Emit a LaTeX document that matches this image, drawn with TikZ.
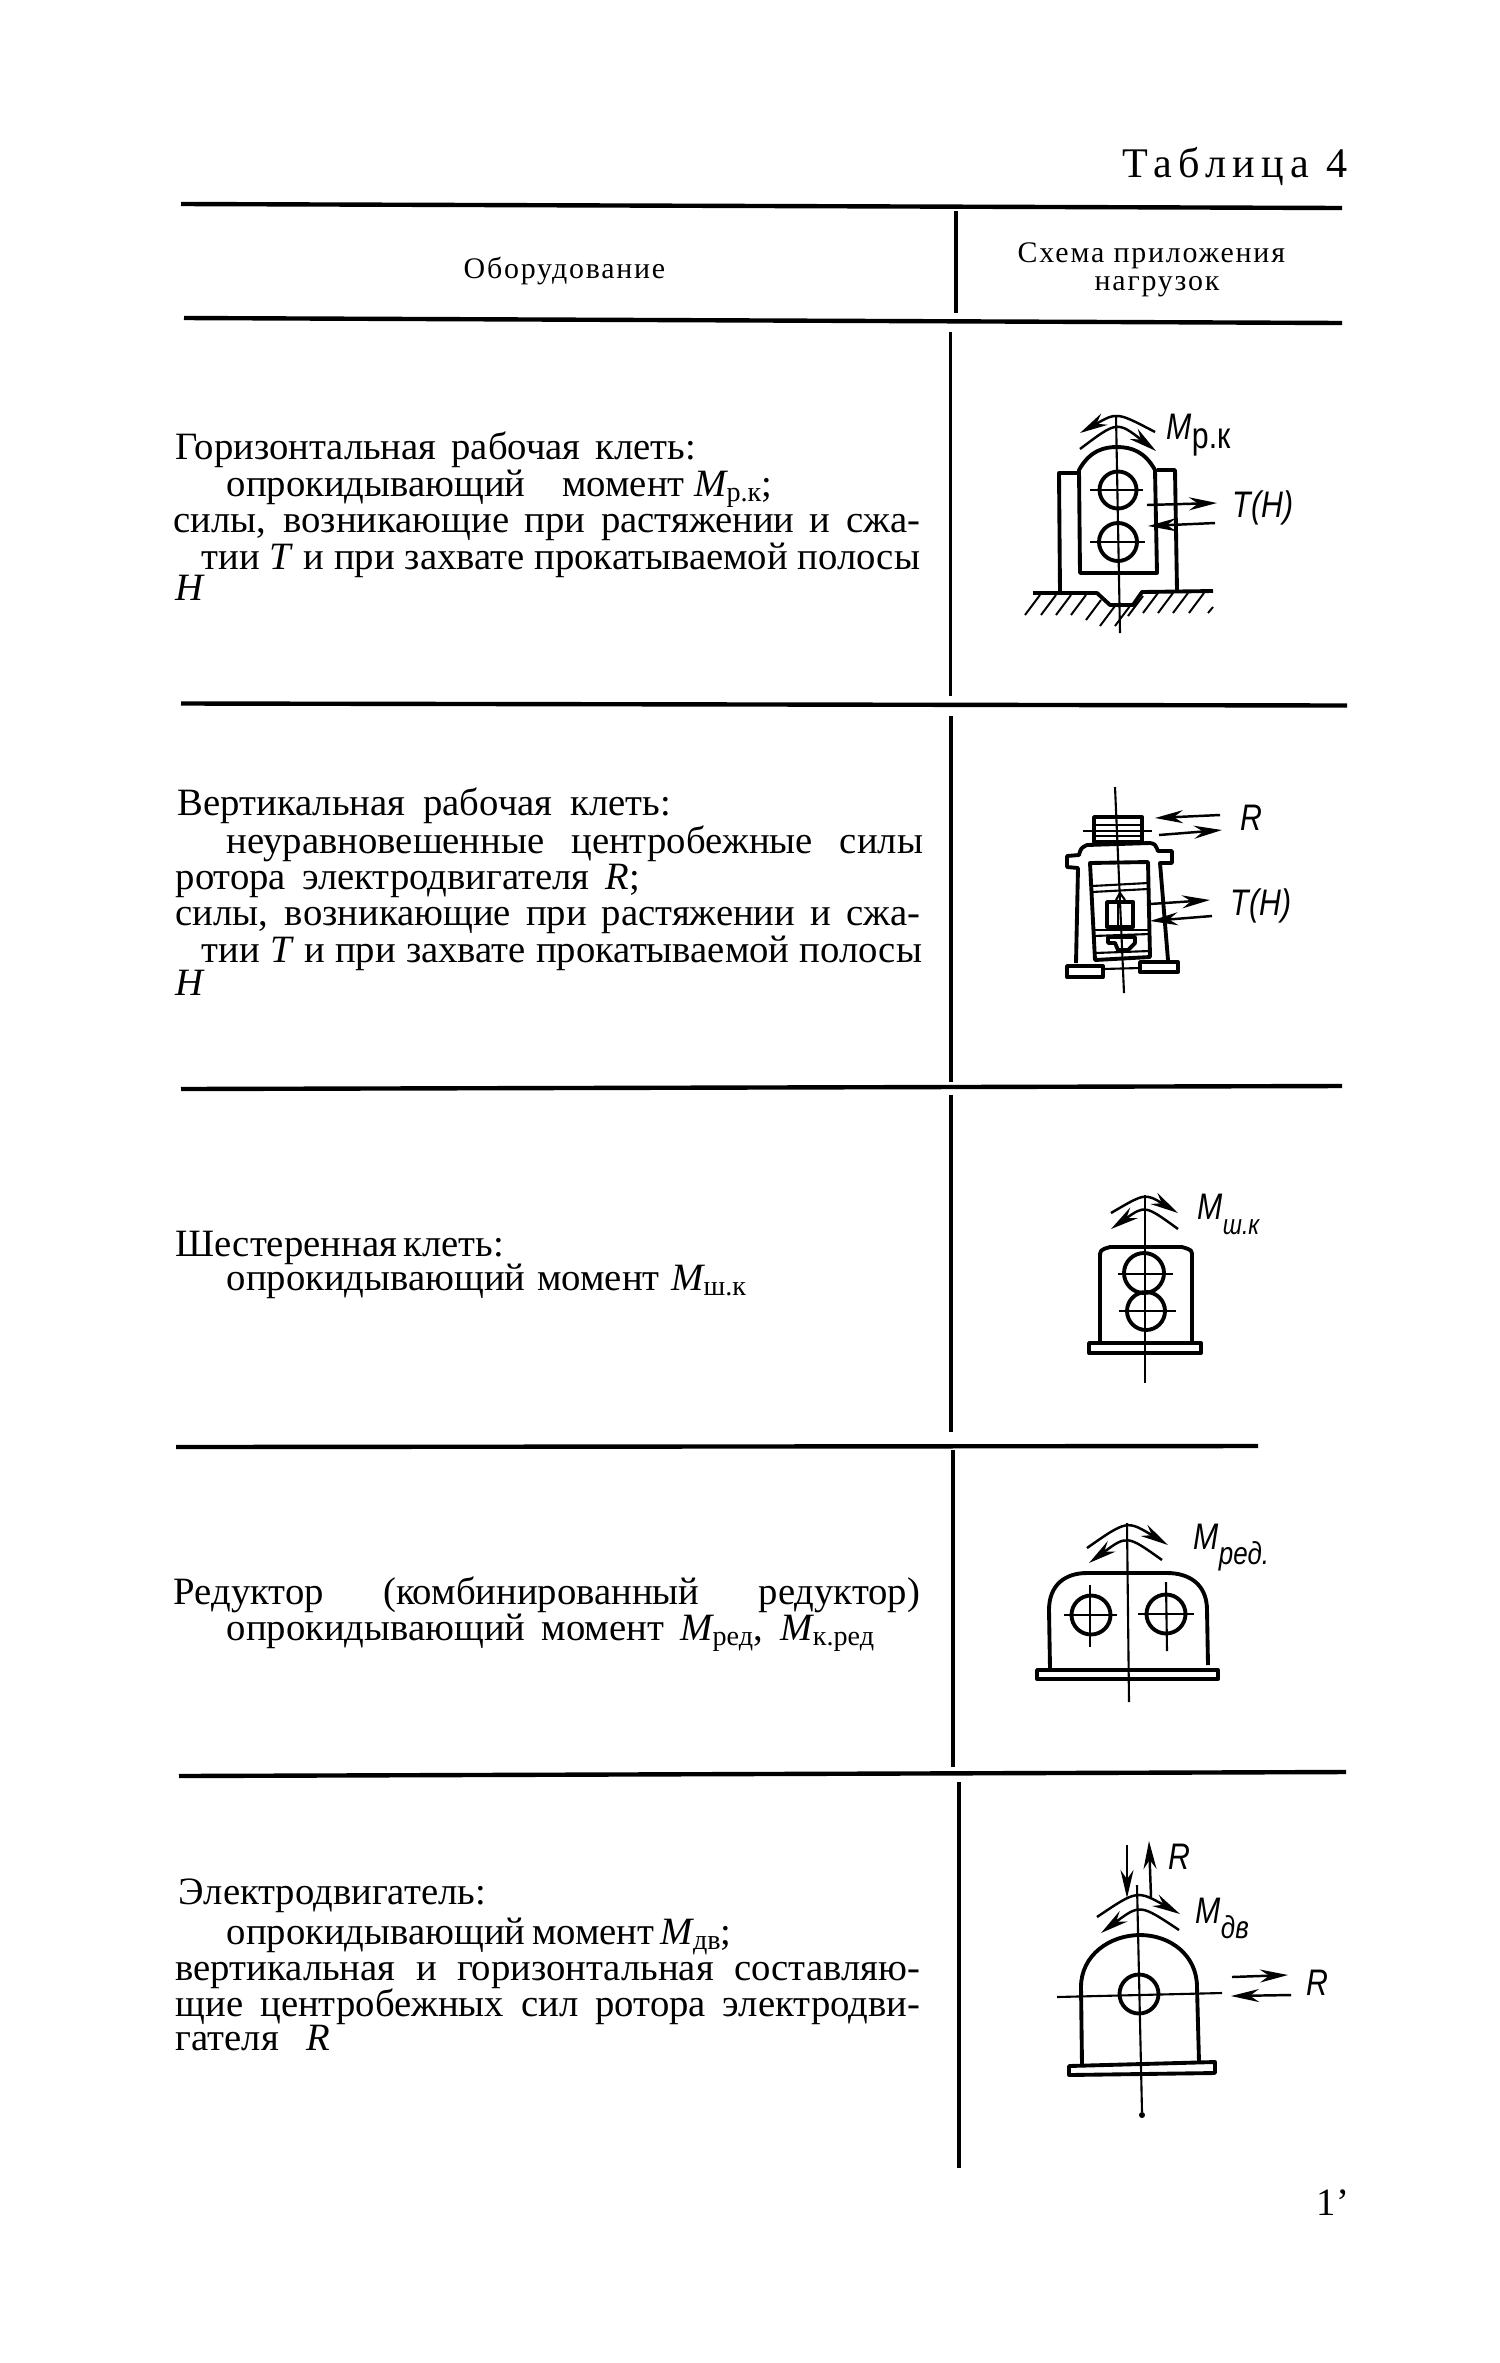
\documentclass[tikz,border=0pt]{standalone}
\usepackage{fontspec}
\usepackage{graphicx}
\setmainfont{Liberation Serif}
\newfontfamily\handfont{Liberation Sans}
\usetikzlibrary{arrows.meta}
\newcommand{\jline}[2]{\hbox to #1{#2}}
\newcommand{\mload}[1]{\textit{M}\kern-.5pt\lower.3ex\hbox{\footnotesize #1}}
\newcommand{\hnarrow}[1]{\scalebox{.82}[1]{#1}}
\tikzset{
  txt/.style={anchor=base west, inner sep=0pt, font=\fontsize{11}{12}\selectfont},
  headtxt/.style={txt, font=\fontsize{8.5}{9}\selectfont\addfontfeature{LetterSpace=6}},
  hand/.style={anchor=base west, inner sep=0pt, font=\handfont\fontsize{10.5}{12}\selectfont\itshape},
  rule/.style={line width=1.25pt},
  vrule/.style={line width=1.05pt},
  body/.style={line width=1.1pt, line join=round},
  thin/.style={line width=.6pt},
  hatch/.style={line width=.55pt},
  force/.style={line width=.7pt, -{Stealth[length=2.8mm, width=1.3mm]}}
}
\begin{document}
\begin{tikzpicture}[x=.01cm, y=-.01cm]
  \useasboundingbox (0,0) rectangle (1500,2363);
  % heading
  \node[txt, font=\fontsize{12}{12}\selectfont\addfontfeature{LetterSpace=15}] (title) at (1122,177) {Таблица 4};
  \node[headtxt] (headA) at (463,278) {Оборудование};
  \node[headtxt] (headB) at (1017,262) {Схема приложения};
  \node[headtxt] (headC) at (1094,290) {нагрузок};
  % table lines
  \draw[rule] (181,204) -- (1342,208);
  \draw[rule] (184,318) -- (1342,323);
  \draw[rule] (181,703.5) -- (1347,705.5);
  \draw[rule] (181,1089) -- (1342,1086);
  \draw[rule] (176,1447) -- (1258,1446);
  \draw[rule] (179,1776) -- (1346,1772);
  \draw[vrule] (956,211) -- (956,313);
  \draw[vrule] (950.5,332) -- (950.5,696);
  \draw[vrule] (951,716) -- (951,1082);
  \draw[vrule] (951,1095) -- (951,1432);
  \draw[vrule] (953,1450) -- (953,1767);
  \draw[vrule] (959,1782) -- (959,2168);
  % first row
  \node[txt] (a1) at (175,459) {\jline{5.2cm}{Горизонтальная рабочая клеть:}};
  \node[txt] (a2) at (226,496.5) {\jline{5.45cm}{опрокидывающий\hfil момент \mload{р.к};}};
  \node[txt] (a3) at (173,532.5) {\jline{7.46cm}{силы, возникающие при растяжении и сжа-}};
  \node[txt] (a4) at (201,569) {\jline{7.18cm}{тии \textit{T} и при захвате прокатываемой полосы}};
  \node[txt] (a5) at (175,600) {\textit{H}};
  % second row
  \node[txt] (b1) at (177,815) {\jline{4.93cm}{Вертикальная рабочая клеть:}};
  \node[txt] (b2) at (226,853) {\jline{6.96cm}{неуравновешенные\hfil центробежные\hfil силы}};
  \node[txt] (b3) at (175,889) {\jline{4.64cm}{ротора электродвигателя \textit{R};}};
  \node[txt] (b4) at (175,925.5) {\jline{7.44cm}{силы, возникающие при растяжении и сжа-}};
  \node[txt] (b5) at (201,962) {\jline{7.2cm}{тии \textit{T} и при захвате прокатываемой полосы}};
  \node[txt] (b6) at (175,995) {\textit{H}};
  % third row
  \node[txt] (c1) at (175,1256) {\jline{3.27cm}{Шестеренная клеть:}};
  \node[txt] (c2) at (226,1290) {\jline{5.19cm}{опрокидывающий момент \mload{ш.к}}};
  % fourth row
  \node[txt] (d1) at (173,1604) {\jline{7.46cm}{Редуктор\hfil (комбинированный\hfil редуктор)}};
  \node[txt] (d2) at (226,1640) {\jline{6.47cm}{опрокидывающий момент \mload{ред}, \mload{к.ред}}};
  % fifth row
  \node[txt] (e1) at (178,1904) {\jline{3.07cm}{Электродвигатель:}};
  \node[txt] (e2) at (226,1944) {\jline{4.85cm}{опрокидывающий момент \mload{дв};}};
  \node[txt] (e3) at (175,1980) {\jline{7.44cm}{вертикальная и горизонтальная составляю-}};
  \node[txt] (e4) at (175,2016) {\jline{7.44cm}{щие центробежных сил ротора электродви-}};
  \node[txt] (e5) at (175,2050) {\jline{1.54cm}{гателя \textit{R}}};
  \node[txt] (page) at (1316,2215) {1'};

  % horizontal stand
  \draw[thin] (1116,415) -- (1120,633);
  \draw[body] (1078,473) -- (1059,473) -- (1060,592);
  \draw[body] (1157,470) -- (1175,470) -- (1177,590);
  \draw[body] (1079,470) .. controls (1090,450) and (1105,447) .. (1117,447)
    .. controls (1132,447) and (1145,452) .. (1155,470) -- (1157,573) -- (1080,573) -- cycle;
  \draw[body] (1118,490) circle[radius=18.5];
  \draw[body] (1118,542) circle[radius=19];
  \draw[thin] (1090,490) -- (1143,490);
  \draw[thin] (1090,542) -- (1145,542);
  \draw[force] (1155,432) .. controls (1117,412) .. (1080,433);
  \draw[force] (1080,449) .. controls (1117,421) .. (1156,451);
  \draw[force] (1147,505) -- (1217,503);
  \draw[force] (1215,523) -- (1148,526);
  \draw[body] (1033,593) -- (1097,593) -- (1110,605) -- (1133,605) -- (1142,592) -- (1213,591);
  \foreach \x/\y in {1040/595,1056/595,1071/595,1086/595,1101/600,1115/606,1130/606,1143/596,1158/593,1173/593,1188/593,1204/593}
    \draw[hatch] (\x,\y) -- ++(-15,20);
  \draw[hatch] (1213,607) -- (1208,613);
  \node[hand] (loadA) at (1166,439) {\hnarrow{M\lower.5ex\hbox{\upshape р.к}}};
  \node[hand] (loadB) at (1232,517) {\hnarrow{T(H)}};

  % vertical stand
  \draw[thin] (1115,787) -- (1124,993);
  \draw[body] (1094,817) rectangle (1142,842);
  \draw[thin] (1094,825) -- (1142,825);
  \draw[thin] (1083,831) -- (1152,831);
  \draw[thin] (1094,836) -- (1142,836);
  \draw[body] (1076,963) -- (1078,868) -- (1067,867) -- (1067,856) -- (1079,855)
    .. controls (1081,848) .. (1087,845) -- (1150,843) .. controls (1155,844) .. (1158,851)
    -- (1172,851) -- (1172,863) -- (1160,863) -- (1168,960);
  \draw[body] (1090,863) -- (1148,862) -- (1150,957) -- (1095,960) -- cycle;
  \draw[thin] (1092,886) -- (1148,883);
  \draw[thin] (1092,892) -- (1148,889);
  \draw[thin] (1093,930) -- (1150,930);
  \draw[thin] (1093,936) -- (1150,934);
  \draw[thin] (1095,953) -- (1150,951);
  \draw[body] (1107,902) rectangle (1133,927);
  \draw[thin] (1118,902) -- (1118,927);
  \draw[thin] (1116,900) -- (1120,893) -- (1125,900);
  \draw[body] (1108,937) -- (1135,937) -- (1135,943) -- (1128,950) -- (1118,950) -- (1115,943) -- (1108,943) -- cycle;
  \draw[body] (1067,966) rectangle (1103,977);
  \draw[body] (1140,962) rectangle (1178,972);
  \draw[thin] (1103,969) -- (1140,968);
  \draw[force] (1220,815) -- (1155,818);
  \draw[force] (1159,835) -- (1222,830);
  \draw[force] (1150,904) -- (1210,900);
  \draw[force] (1212,916) -- (1150,921);
  \node[hand] (loadC) at (1240,830) {\hnarrow{R}};
  \node[hand] (loadD) at (1230,915) {\hnarrow{T(H)}};

  % pinion stand
  \draw[thin] (1145,1195) -- (1145,1383);
  \draw[body] (1100,1342) -- (1100,1258) .. controls (1100,1250) .. (1110,1247) -- (1182,1247)
    .. controls (1192,1250) .. (1192,1257) -- (1192,1342);
  \draw[body] (1089,1343) rectangle (1201,1353);
  \draw[body] (1144,1273) circle[radius=20];
  \draw[body] (1146,1311) circle[radius=19];
  \draw[thin] (1118,1274) -- (1173,1274);
  \draw[thin] (1119,1311) -- (1176,1311);
  \draw[force] (1111,1213) .. controls (1145,1193) .. (1178,1213);
  \draw[force] (1178,1229) .. controls (1145,1205) .. (1111,1229);
  \node[hand] (loadE) at (1197,1219) {\hnarrow{M\lower.8ex\hbox{\footnotesize ш.к}}};

  % reducer
  \draw[thin] (1127,1523) -- (1129,1702);
  \draw[body] (1050,1668) -- (1049,1610) .. controls (1049,1585) and (1065,1573) .. (1087,1573)
    -- (1167,1573) .. controls (1190,1573) and (1207,1585) .. (1207,1610) -- (1208,1665);
  \draw[body] (1037,1670) rectangle (1218,1679);
  \draw[body] (1091,1615) circle[radius=19.5];
  \draw[body] (1166,1614) circle[radius=19.5];
  \draw[thin] (1064,1615) -- (1117,1615);
  \draw[thin] (1090,1585) -- (1090,1647);
  \draw[thin] (1138,1614) -- (1194,1614);
  \draw[thin] (1166,1582) -- (1167,1651);
  \draw[force] (1087,1548) .. controls (1127,1520) .. (1168,1545);
  \draw[force] (1162,1560) .. controls (1127,1535) .. (1089,1563);
  \node[hand] (loadF) at (1193,1549) {\hnarrow{M\lower.8ex\hbox{\small ред.}}};

  % motor
  \draw[thin] (1137,1885) -- (1142,2112);
  \fill (1142,2115) circle[radius=3];
  \draw[body] (1082,2065) -- (1081,1987) .. controls (1081,1955) and (1110,1935) .. (1140,1935)
    .. controls (1170,1935) and (1197,1955) .. (1197,1987) -- (1199,2062);
  \draw[body] (1069,2066) -- (1215,2062) -- (1215,2073) -- (1069,2075) -- cycle;
  \draw[body] (1139,1994) circle[radius=19.5];
  \draw[thin] (1057,1997) -- (1222,1993);
  \draw[force] (1097,1917) .. controls (1137,1890) .. (1180,1914);
  \draw[force] (1179,1930) .. controls (1140,1904) .. (1101,1933);
  \draw[force] (1127,1845) -- (1127,1898);
  \draw[force] (1151,1897) -- (1149,1841);
  \draw[force] (1232,1977) -- (1288,1975);
  \draw[force] (1291,1995) -- (1231,1996);
  \node[hand] (loadG) at (1168,1869) {\hnarrow{R}};
  \node[hand] (loadH) at (1195,1923) {\hnarrow{M\lower.8ex\hbox{\small дв}}};
  \node[hand] (loadI) at (1306,1995) {\hnarrow{R}};
\end{tikzpicture}
\end{document}
